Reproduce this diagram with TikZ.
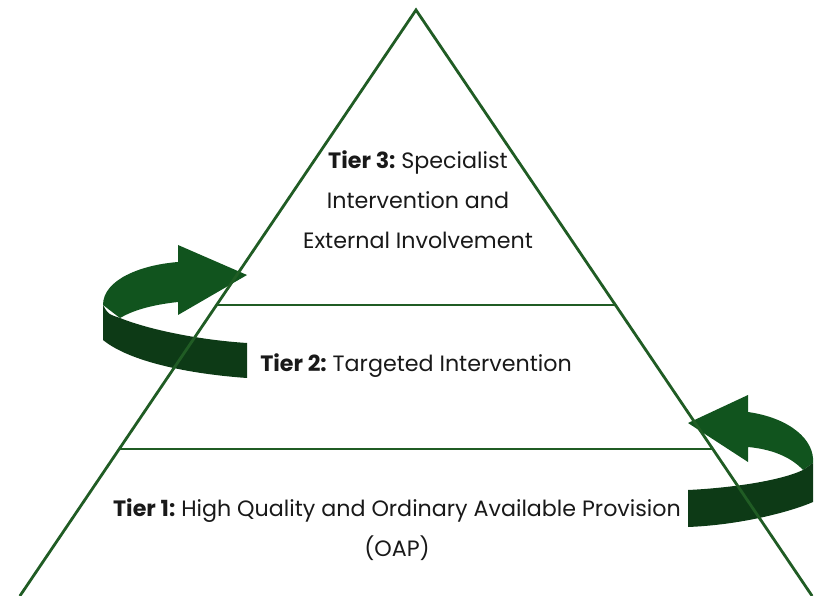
\documentclass[tikz,border=0pt]{standalone}
\usepackage{fontspec}
\setmainfont{Poppins}
\frenchspacing
\definecolor{tiergreen}{RGB}{32,92,36}
\definecolor{arrowback}{RGB}{17,84,30}
\definecolor{arrowfront}{RGB}{13,58,22}

\begin{document}
\begin{tikzpicture}[x=1pt,y=-1pt,
		tierline/.style={draw=tiergreen,line width=2.8pt},
		tiertext/.style={align=center,text=black!90,font=\fontsize{22.2}{40}\selectfont}]
		
		\useasboundingbox (0,0) rectangle (815,596);
		
		%Pyramid slope and apex
		\def\s{0.676}
		\def\ax{416}
		
		%Marking coordinates
		\coordinate (Apex) at (\ax,10);
		\coordinate (BL) at ({\ax-\s*586},596);
		\coordinate (BR) at ({\ax+\s*586},596);
		\coordinate (L32) at ({\ax-\s*295},305);
		\coordinate (R32) at ({\ax+\s*295},305);
		\coordinate (L21) at ({\ax-\s*439},449);
		\coordinate (R21) at ({\ax+\s*439},449);
		
		%Left turning arrow
		\fill[arrowfront] (103,305) .. controls (108,314) .. (120,318) .. controls (150,330) and (200,340) .. (247,343) -- (247,378) .. controls (190,374) and (130,362) .. (103,340) -- cycle;
		\fill[arrowback] (103,305) .. controls (103,280) and (140,265) .. (178,262) -- (178,245) -- (247,275) -- (178,315) -- (178,302) .. controls (150,305) and (132,311) .. (120,318) -- cycle;
		
		%Right turning arrow
		\fill[arrowback] (688,423) -- (748,395) -- (748,412) .. controls (790,418) and (815,440) .. (813,463) -- (803,470) .. controls (790,456) and (770,449) .. (748,447) -- (748,462) -- cycle;
		\fill[arrowfront] (688,490) .. controls (730,488) and (780,481) .. (803,470) -- (813,463) -- (813,502) .. controls (790,512) and (740,525) .. (688,527) -- cycle;
		
		%Drawing pyramid
		\draw[tierline] (BL) -- (Apex) -- (BR);
		\draw[tierline] (L32) -- (R32);
		\draw[tierline] (L21) -- (R21);
		
		%Tier labels
		\node[tiertext] (tier3) at (418,200) {\textbf{Tier 3:} Specialist\\Intervention and\\External Involvement};
		\node[tiertext] (tier2) at (416,366) {\textbf{Tier 2:} Targeted Intervention};
		\node[tiertext] (tier1) at (397,530) {\textbf{Tier 1:} High Quality and Ordinary Available Provision\\(OAP)};
	\end{tikzpicture}
\end{document}
